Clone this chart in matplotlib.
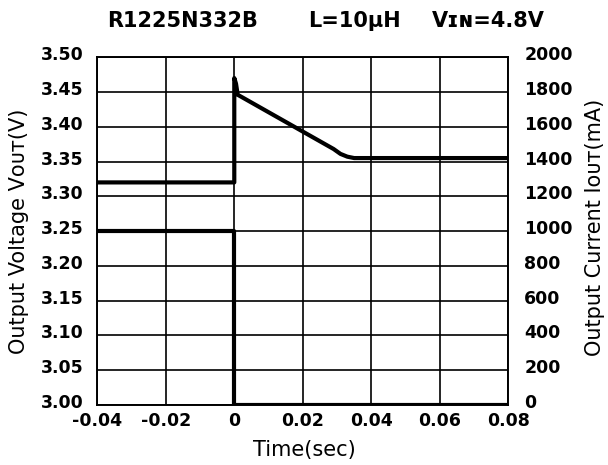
import matplotlib
matplotlib.use("Agg")
import matplotlib.pyplot as plt
from matplotlib.transforms import ScaledTranslation

plt.rcParams['font.family'] = ['DejaVu Sans']

# output voltage (V) vs time (s)
t_v = [-0.04, 0.0, 0.0, 0.0005, 0.001, 0.029, 0.031, 0.033, 0.035, 0.08]
v_out = [3.32, 3.32, 3.47, 3.462, 3.446, 3.368, 3.361, 3.357, 3.355, 3.355]

# output current (mA) vs time (s)
t_i = [-0.04, 0.0, 0.0, 0.08]
i_out = [1000, 1000, 0, 0]

x_ticks = [-0.04, -0.02, 0, 0.02, 0.04, 0.06, 0.08]
x_labels = ['-0.04', '-0.02', '0', '0.02', '0.04', '0.06', '0.08']
v_ticks = [3.00, 3.05, 3.10, 3.15, 3.20, 3.25, 3.30, 3.35, 3.40, 3.45, 3.50]
i_ticks = [0, 200, 400, 600, 800, 1000, 1200, 1400, 1600, 1800, 2000]

fig = plt.figure(figsize=(6.08, 4.65), dpi=100)
ax = fig.add_axes([0.160, 0.129, 0.676, 0.748])
ax2 = ax.twinx()

ax.plot(t_v, v_out, color='black', lw=3.0, solid_joinstyle='round', zorder=5)
ax2.plot(t_i, i_out, color='black', lw=3.0, zorder=5)

ax.set_xlim(-0.04, 0.08)
ax.set_ylim(3.0, 3.5)
ax2.set_ylim(0, 2000)
ax.set_xticks(x_ticks)
ax.set_xticklabels(x_labels)
ax.set_yticks(v_ticks)
ax.set_yticklabels(['%.2f' % v for v in v_ticks])
ax2.set_yticks(i_ticks)
ax2.set_yticklabels([str(v) for v in i_ticks])

ax.grid(True, color='black', lw=1.2)
ax.tick_params(axis='x', length=0, labelsize=12.5, pad=4.8)
ax.tick_params(axis='y', length=0, labelsize=12.5, pad=10)
ax2.tick_params(axis='y', length=0, labelsize=12.5, pad=11.5)
shift = ScaledTranslation(0, 0.04, fig.dpi_scale_trans)
for a in (ax, ax2):
    for lbl in a.get_xticklabels() + a.get_yticklabels():
        lbl.set_fontweight('bold')
    for lbl in a.get_yticklabels():
        lbl.set_transform(lbl.get_transform() + shift)
    for s in a.spines.values():
        s.set_linewidth(1.2)

ax.set_xlabel('Time(sec)', fontsize=15, va='center')
ax.xaxis.set_label_coords(0.504, -0.129)
ax.set_ylabel('Output Voltage Vᴏᴜᴛ(V)', fontsize=15, va='center')
ax.yaxis.set_label_coords(-0.19, 0.499)
ax2.set_ylabel('Output Current Iᴏᴜᴛ(mA)', fontsize=15, va='center')
ax2.yaxis.set_label_coords(1.212, 0.510)

# title in three pieces, spaced as in the reference
title_y = 1 - 21 / 465
for x_px, piece in [(107, 'R1225N332B'), (308, 'L=10μH'), (432, 'Vɪɴ=4.8V')]:
    fig.text(x_px / 608, title_y, piece, fontsize=15, fontweight='bold',
             ha='left', va='center')

fig.savefig('out.png', dpi=100)
